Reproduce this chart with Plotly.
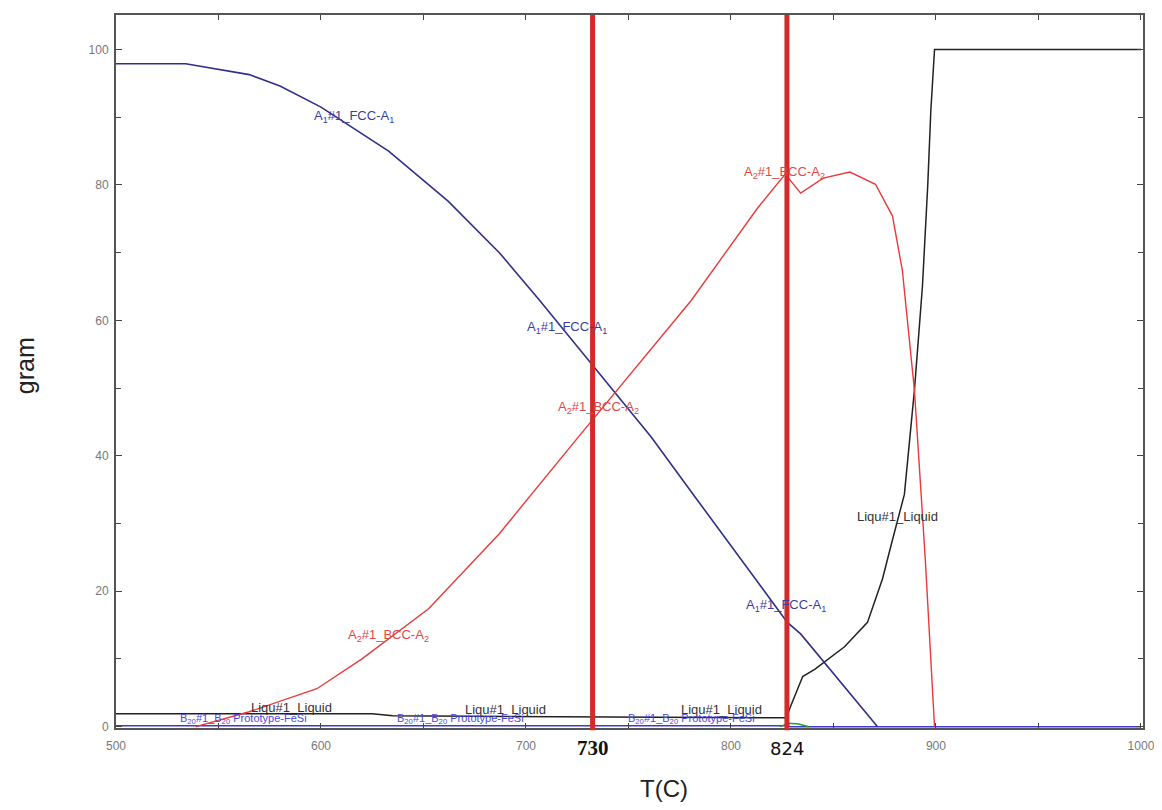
import plotly.graph_objects as go

# ---------------- data ----------------
fcc_T = [500, 534, 565, 580, 600, 633, 662, 687, 706, 732, 761, 784, 811.5, 827.5, 834, 871.5]
fcc_g = [97.9, 97.9, 96.3, 94.6, 91.5, 85.0, 77.6, 70.0, 63.2, 53.6, 42.8, 33.3, 22.1, 15.4, 13.7, 0.0]

bcc_T = [539, 565, 598, 620, 652.5, 687, 725.6, 750, 780.5, 813, 826.5, 834, 845, 858, 870.5, 878.8, 883.6, 889.5, 894.8, 899.3]
bcc_g = [0.0, 2.2, 5.6, 10.0, 17.4, 28.5, 42.8, 51.7, 62.9, 76.6, 81.6, 78.8, 81.0, 81.9, 80.1, 75.4, 67.4, 49.7, 24.7, 0.0]

liq_T = [500, 625, 635, 827, 829.2, 835, 841, 855.4, 866.6, 873.9, 878.8, 884.6, 889.5, 893.4, 896, 897.5, 899.3, 1000]
liq_g = [1.9, 1.9, 1.6, 1.3, 3.1, 7.4, 8.5, 11.8, 15.4, 21.8, 27.6, 34.3, 49.7, 65.0, 80.0, 91.0, 100.0, 100.0]

b20_T = [500, 828, 829, 1000]
b20_g = [0.15, 0.15, 0.0, 0.0]

grn_T = [824, 828, 833, 838]
grn_g = [0.0, 0.5, 0.4, 0.0]

x_ticks = [500, 600, 700, 800, 900, 1000]
y_ticks = [0, 20, 40, 60, 80, 100]

marker_T = [732.5, 827.3]
marker_labels = ["730", "824"]

fcc_label_pos = [(616, 90.1), (720.2, 59.0), (826.8, 17.9)]
bcc_label_pos = [(826, 81.8), (735.3, 47.1), (633, 13.4)]
liq_label_pos = [(585.4, 2.9), (690, 2.6), (795.6, 2.5), (881.3, 31.0)]
b20_label_pos = [(562, 1.1), (668, 1.1), (780.6, 1.1)]

FCC_TXT = "A<sub>1</sub>#1_FCC-A<sub>1</sub>"
BCC_TXT = "A<sub>2</sub>#1_BCC-A<sub>2</sub>"
LIQ_TXT = "Liqu#1_Liquid"
B20_TXT = "B<sub>20</sub>#1_B<sub>20</sub> Prototype-FeSi"

# ---------------- layout geometry (page has an 8px body margin) ----------------
W, H = 1152, 794
L, R, T, B = 108, 15, 5, 74
pw, ph = W - L - R, H - T - B

def page_to_paper(px, py):
    fx, fy = px - 8, py - 8
    return (fx - L) / pw, (H - fy - B) / ph

# ---------------- figure ----------------
fig = go.Figure()
fig.add_trace(go.Scatter(x=b20_T, y=b20_g, mode="lines", line=dict(color="#3a3ad0", width=1.5), showlegend=False))
fig.add_trace(go.Scatter(x=grn_T, y=grn_g, mode="lines", line=dict(color="#2a9a2a", width=1.5), showlegend=False))
fig.add_trace(go.Scatter(x=liq_T, y=liq_g, mode="lines", line=dict(color="#222222", width=1.5), showlegend=False))
fig.add_trace(go.Scatter(x=fcc_T, y=fcc_g, mode="lines", line=dict(color="#30308a", width=1.6), showlegend=False))
fig.add_trace(go.Scatter(x=bcc_T, y=bcc_g, mode="lines", line=dict(color="#e83a3a", width=1.4), showlegend=False))

ann = []
def lab(pos, txt, col, size):
    for (x, y) in pos:
        ann.append(dict(x=x, y=y, xref="x", yref="y", text=txt, showarrow=False,
                        xanchor="center", yanchor="middle",
                        font=dict(family="Liberation Sans, Arial", size=size, color=col)))

lab(fcc_label_pos, FCC_TXT, "#3c3ca0", 13)
lab(bcc_label_pos, BCC_TXT, "#e04848", 13)
lab(liq_label_pos, LIQ_TXT, "#333333", 13)
lab(b20_label_pos, B20_TXT, "#4848e0", 11)

shapes = []
for t in marker_T:
    shapes.append(dict(type="line", xref="x", yref="paper", x0=t, x1=t, y0=-0.003, y1=1,
                       line=dict(color="#d42a2a", width=5)))

# marker labels below axis
ann.append(dict(x=marker_T[0], y=0, xref="x", yref="paper", yshift=-20, text="<b>" + marker_labels[0] + "</b>",
                showarrow=False, xanchor="center", yanchor="middle",
                font=dict(family="Liberation Serif, Times New Roman", size=21, color="#111111")))
ann.append(dict(x=marker_T[1], y=0, xref="x", yref="paper", yshift=-20, text=marker_labels[1],
                showarrow=False, xanchor="center", yanchor="middle",
                font=dict(family="DejaVu Sans, Arial", size=18, color="#111111")))

# axis titles
tx, ty = page_to_paper(665, 789)
ann.append(dict(x=tx, y=ty, xref="paper", yref="paper", text="T(C)", showarrow=False,
                xanchor="center", yanchor="middle",
                font=dict(family="Liberation Sans, Arial", size=24, color="#222222")))
gx, gy = page_to_paper(25, 365)
ann.append(dict(x=gx, y=gy, xref="paper", yref="paper", text="gram", showarrow=False, textangle=-90,
                xanchor="center", yanchor="middle",
                font=dict(family="Liberation Sans, Arial", size=25, color="#222222")))

fig.update_layout(
    width=W, height=H,
    margin=dict(l=L, r=R, t=T, b=B),
    plot_bgcolor="white", paper_bgcolor="white",
    annotations=ann, shapes=shapes,
    xaxis=dict(range=[500, 1001], tickvals=x_ticks, ticktext=[str(v) for v in x_ticks],
               ticks="inside", ticklen=5, tickcolor="#444", showgrid=False, zeroline=False,
               showline=True, linecolor="#555", linewidth=2, mirror="allticks",
               ticklabeloverflow="allow", ticklabelstandoff=6,
               tickfont=dict(family="Liberation Sans, Arial", size=12, color="#777777"),
               minor=dict(dtick=50, ticks="inside", ticklen=5, tickcolor="#444")),
    yaxis=dict(range=[-0.2, 105.1], tickvals=y_ticks, ticks="inside", ticklen=6, tickcolor="#444",
               showgrid=False, zeroline=False, showline=True, linecolor="#555", linewidth=2,
               mirror="allticks", ticklabeloverflow="allow", ticklabelstandoff=3,
               tickfont=dict(family="Liberation Sans, Arial", size=12, color="#777777"),
               minor=dict(dtick=10, ticks="inside", ticklen=5, tickcolor="#444")),
)

fig.write_html("out.html")
